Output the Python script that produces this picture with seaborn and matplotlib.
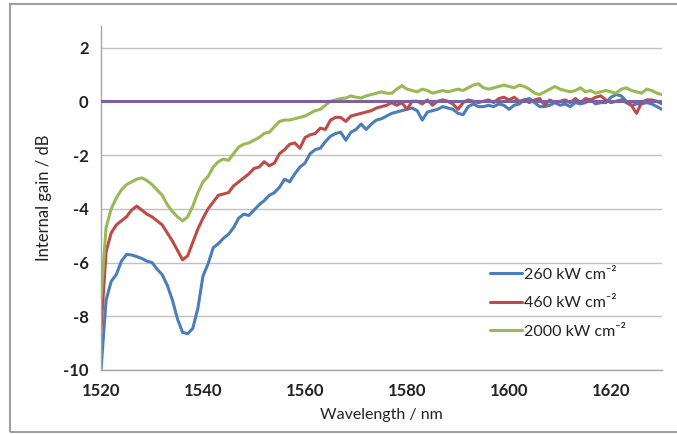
import matplotlib
matplotlib.use("Agg")
import matplotlib.pyplot as plt
from matplotlib.patches import Rectangle
import seaborn as sns
import pandas as pd

# Wavelength grid (nm)
wavelength = list(range(1520, 1631))

# Internal gain (dB) for each pump intensity
gain_260 = [
    -10.0, -7.4, -6.7, -6.45, -5.95, -5.7, -5.72, -5.78, -5.85, -5.95,
    -6.0, -6.25, -6.45, -6.85, -7.4, -8.1, -8.6, -8.65, -8.45, -7.7,
    -6.5, -6.05, -5.45, -5.3, -5.1, -4.95, -4.7, -4.35, -4.2, -4.25,
    -4.05, -3.85, -3.7, -3.5, -3.4, -3.2, -2.9, -3.0, -2.7, -2.45,
    -2.3, -1.95, -1.8, -1.75, -1.5, -1.3, -1.2, -1.15, -1.45, -1.15,
    -1.05, -0.85, -1.05, -0.85, -0.7, -0.65, -0.55, -0.45, -0.4, -0.35,
    -0.3, -0.25, -0.35, -0.7, -0.4, -0.35, -0.3, -0.2, -0.25, -0.3,
    -0.45, -0.5, -0.2, -0.1, -0.2, -0.2, -0.15, -0.2, -0.1, -0.15,
    -0.3, -0.15, -0.1, 0.05, 0.1, -0.05, -0.2, -0.2, -0.15, -0.05,
    -0.15, -0.1, -0.2, -0.05, -0.1, -0.05, 0.05, -0.1, -0.05, -0.05,
    0.15, 0.25, 0.2, 0.0, -0.15, -0.1, -0.1, -0.05, -0.1, -0.2,
    -0.3,
]
gain_460 = [
    -8.5, -5.6, -4.9, -4.6, -4.45, -4.3, -4.05, -3.9, -4.05, -4.2,
    -4.3, -4.45, -4.6, -4.9, -5.2, -5.55, -5.9, -5.75, -5.25, -4.75,
    -4.35, -4.0, -3.75, -3.5, -3.45, -3.4, -3.15, -3.0, -2.85, -2.7,
    -2.5, -2.45, -2.25, -2.4, -2.3, -1.95, -1.8, -1.6, -1.55, -1.75,
    -1.35, -1.25, -1.2, -1.0, -1.05, -0.7, -0.6, -0.6, -0.75, -0.55,
    -0.5, -0.45, -0.4, -0.35, -0.25, -0.2, -0.15, -0.05, -0.15, -0.05,
    -0.3, 0.0, 0.0, -0.1, 0.05, -0.15, 0.0, 0.05, 0.0, -0.1,
    -0.3, -0.05, 0.05, 0.0, -0.05, 0.0, 0.05, -0.05, 0.1, 0.15,
    0.05, 0.15, 0.0, 0.05, -0.05, 0.05, 0.1, -0.15, 0.05, -0.05,
    0.0, 0.05, -0.05, 0.1, -0.05, 0.1, 0.05, 0.15, 0.2, 0.05,
    -0.05, 0.0, 0.05, -0.05, -0.15, -0.45, -0.05, 0.05, 0.05, 0.0,
    -0.1,
]
gain_2000 = [
    -7.3, -4.7, -4.0, -3.6, -3.3, -3.1, -3.0, -2.9, -2.85, -2.95,
    -3.1, -3.3, -3.5, -3.85, -4.1, -4.3, -4.45, -4.3, -3.9, -3.4,
    -3.0, -2.8, -2.45, -2.25, -2.15, -2.2, -1.95, -1.7, -1.6, -1.55,
    -1.45, -1.35, -1.2, -1.15, -0.95, -0.75, -0.7, -0.7, -0.65, -0.6,
    -0.55, -0.45, -0.35, -0.3, -0.15, 0.0, 0.05, 0.1, 0.12, 0.2,
    0.15, 0.12, 0.2, 0.25, 0.3, 0.35, 0.3, 0.3, 0.45, 0.58,
    0.45, 0.4, 0.35, 0.45, 0.4, 0.3, 0.35, 0.4, 0.35, 0.4,
    0.45, 0.4, 0.5, 0.6, 0.65, 0.5, 0.45, 0.5, 0.55, 0.6,
    0.55, 0.5, 0.6, 0.55, 0.45, 0.3, 0.25, 0.35, 0.45, 0.55,
    0.45, 0.4, 0.35, 0.4, 0.5, 0.35, 0.4, 0.3, 0.35, 0.4,
    0.35, 0.3, 0.45, 0.5, 0.4, 0.35, 0.3, 0.45, 0.4, 0.3,
    0.25,
]

series_labels = ["260 kW cm\u207b\u00b2", "460 kW cm\u207b\u00b2", "2000 kW cm\u207b\u00b2"]
series_colors = ["#4A7EBB", "#BE4B48", "#98B954"]
reference_x = [1520, 1630]
reference_y = [0, 0]

yticks = [-10, -8, -6, -4, -2, 0, 2]
xticks = [1520, 1540, 1560, 1580, 1600, 1620]

sns.set_style("white")
plt.rcParams["font.family"] = ["Lato", "DejaVu Sans"]
plt.rcParams["axes.unicode_minus"] = False

frames = []
for label, values in zip(series_labels, [gain_260, gain_460, gain_2000]):
    frames.append(pd.DataFrame({"Wavelength": wavelength, "Gain": values, "Series": label}))
df = pd.concat(frames, ignore_index=True)

fig = plt.figure(figsize=(6.77, 4.34), dpi=100)
ax = fig.add_axes([101 / 677, 1 - 370 / 434, 561 / 677, 344 / 434])

sns.lineplot(data=df, x="Wavelength", y="Gain", hue="Series",
             palette=series_colors, linewidth=2.2, ax=ax, sort=False)
sns.lineplot(x=reference_x, y=reference_y, color="#7D60A0", linewidth=2.2, ax=ax, zorder=5)

ax.set_xlim(1520, 1630)
ax.set_ylim(-10, 2.8)
ax.set_xticks(xticks)
ax.set_yticks(yticks)
ax.yaxis.grid(True, color="#c0c0c0", linewidth=1.0)
ax.xaxis.grid(False)
ax.set_axisbelow(True)
for side in ["top", "right"]:
    ax.spines[side].set_visible(False)
for side in ["left", "bottom"]:
    ax.spines[side].set_color("#a6a6a6")
    ax.spines[side].set_linewidth(1.0)
ax.tick_params(axis="both", which="major", direction="out", length=5, width=1,
               color="#a6a6a6", labelsize=12, pad=4)
for lbl in ax.get_xticklabels() + ax.get_yticklabels():
    lbl.set_fontweight("bold")
    lbl.set_color("#222222")

ax.set_xlabel("Wavelength / nm", fontsize=11.5, color="#222222", labelpad=7)
ax.set_ylabel("Internal gain / dB", fontsize=12, color="#222222", labelpad=8)

handles, labels = ax.get_legend_handles_labels()
leg = ax.legend(handles[:3], labels[:3], loc="upper left", frameon=False,
                bbox_to_anchor=((476 - 101) / 561, (370 - 253) / 344),
                fontsize=11.5, handlelength=2.0, handletextpad=0.1, labelspacing=0.9)
for txt in leg.get_texts():
    txt.set_color("#222222")

# chart-area border
fig.patches.append(Rectangle((10 / 677, 1 - 432 / 434), 700 / 677, 428 / 434,
                             transform=fig.transFigure, fill=False,
                             edgecolor="#a0a0a0", linewidth=1.5))

fig.savefig("out.png", dpi=100)
